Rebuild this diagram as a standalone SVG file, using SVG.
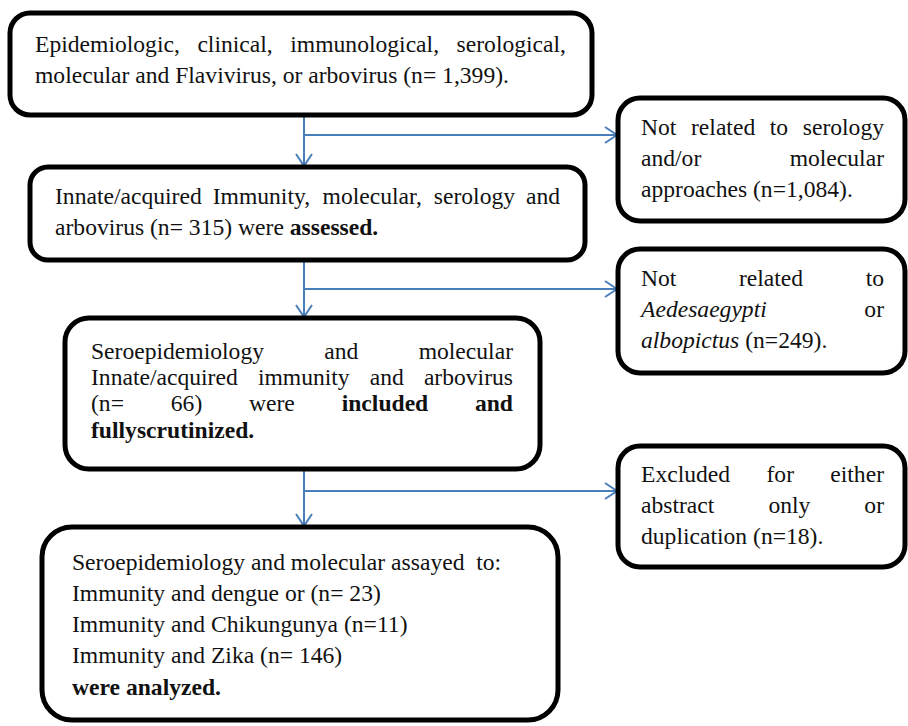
<svg xmlns="http://www.w3.org/2000/svg" width="908" height="726" viewBox="0 0 908 726">
<style>
.box{fill:#fff;stroke:#000;stroke-width:5}
.t{font-family:"Liberation Serif","Times New Roman",serif;font-size:23.6px;fill:#111}
.b{font-weight:bold}
.i{font-style:italic}
.c{fill:none;stroke:#4A7EBB;stroke-width:2}
</style>
<defs>
<marker id="ah" viewBox="0 0 14 18" refX="13" refY="9" markerWidth="14" markerHeight="18" markerUnits="userSpaceOnUse" orient="auto">
<path d="M1,1 L13,9 L1,17" fill="none" stroke="#4A7EBB" stroke-width="2"/>
</marker>
</defs>
<rect width="908" height="726" fill="#fff"/>
<g id="connectors">
<path class="c" d="M304,116 V166" marker-end="url(#ah)"/>
<path class="c" d="M304,135 H617" marker-end="url(#ah)"/>
<path class="c" d="M304,261 V317" marker-end="url(#ah)"/>
<path class="c" d="M304,289 H617" marker-end="url(#ah)"/>
<path class="c" d="M304,470 V526" marker-end="url(#ah)"/>
<path class="c" d="M304,491 H617" marker-end="url(#ah)"/>
</g>
<g id="n1">
<rect class="box" x="10" y="13" width="582" height="102" rx="20"/>
<text class="t" y="52"><tspan x="35">Epidemiologic,</tspan><tspan x="197.4">clinical,</tspan><tspan x="290.3">immunological,</tspan><tspan x="566" text-anchor="end">serological,</tspan></text>
<text class="t" x="35" y="83">molecular and Flavivirus, or arbovirus (n= 1,399).</text>
</g>
<g id="n2">
<rect class="box" x="30" y="167" width="555" height="93" rx="18"/>
<text class="t" y="204"><tspan x="55">Innate/acquired</tspan><tspan x="212.7">Immunity,</tspan><tspan x="322.6">molecular,</tspan><tspan x="433.8">serology</tspan><tspan x="560" text-anchor="end">and</tspan></text>
<text class="t" x="55" y="235">arbovirus (n= 315) were <tspan class="b">assessed.</tspan></text>
</g>
<g id="n3">
<rect class="box" x="65" y="318" width="475" height="151" rx="24"/>
<text class="t" y="359"><tspan x="91">Seroepidemiology</tspan><tspan x="324.3">and</tspan><tspan x="513" text-anchor="end">molecular</tspan></text>
<text class="t" y="385"><tspan x="91">Innate/acquired</tspan><tspan x="257.9">immunity</tspan><tspan x="369.8">and</tspan><tspan x="513" text-anchor="end">arbovirus</tspan></text>
<text class="t" y="411"><tspan x="91">(n=</tspan><tspan x="170.8">66)</tspan><tspan x="249">were</tspan><tspan class="b" x="341.7">included</tspan><tspan class="b" x="513" text-anchor="end">and</tspan></text>
<text class="t b" x="91" y="438">fullyscrutinized.</text>
</g>
<g id="n4">
<rect class="box" x="42" y="527" width="516" height="193" rx="30"/>
<text class="t" x="72" y="570" xml:space="preserve">Seroepidemiology and molecular assayed  to:</text>
<text class="t" x="72" y="601">Immunity and dengue or (n= 23)</text>
<text class="t" x="72" y="632">Immunity and Chikungunya (n=11)</text>
<text class="t" x="72" y="663">Immunity and Zika (n= 146)</text>
<text class="t b" x="72" y="695">were analyzed.</text>
</g>
<g id="r1">
<rect class="box" x="618" y="98" width="287" height="123" rx="22"/>
<text class="t" y="135"><tspan x="641">Not</tspan><tspan x="691">related</tspan><tspan x="769.8">to</tspan><tspan x="884" text-anchor="end">serology</tspan></text>
<text class="t" y="166"><tspan x="641">and/or</tspan><tspan x="884" text-anchor="end">molecular</tspan></text>
<text class="t" x="641" y="197">approaches (n=1,084).</text>
</g>
<g id="r2">
<rect class="box" x="618" y="249" width="287" height="124" rx="22"/>
<text class="t" y="286"><tspan x="641">Not</tspan><tspan x="738.9">related</tspan><tspan x="884" text-anchor="end">to</tspan></text>
<text class="t" y="317"><tspan class="i" x="641">Aedesaegypti</tspan><tspan x="884" text-anchor="end">or</tspan></text>
<text class="t" x="641" y="348"><tspan class="i">albopictus</tspan> (n=249).</text>
</g>
<g id="r3">
<rect class="box" x="618" y="446" width="287" height="121" rx="22"/>
<text class="t" y="482"><tspan x="641">Excluded</tspan><tspan x="766.5">for</tspan><tspan x="884" text-anchor="end">either</tspan></text>
<text class="t" y="513"><tspan x="641">abstract</tspan><tspan x="768.4">only</tspan><tspan x="884" text-anchor="end">or</tspan></text>
<text class="t" x="641" y="544">duplication (n=18).</text>
</g>
</svg>
